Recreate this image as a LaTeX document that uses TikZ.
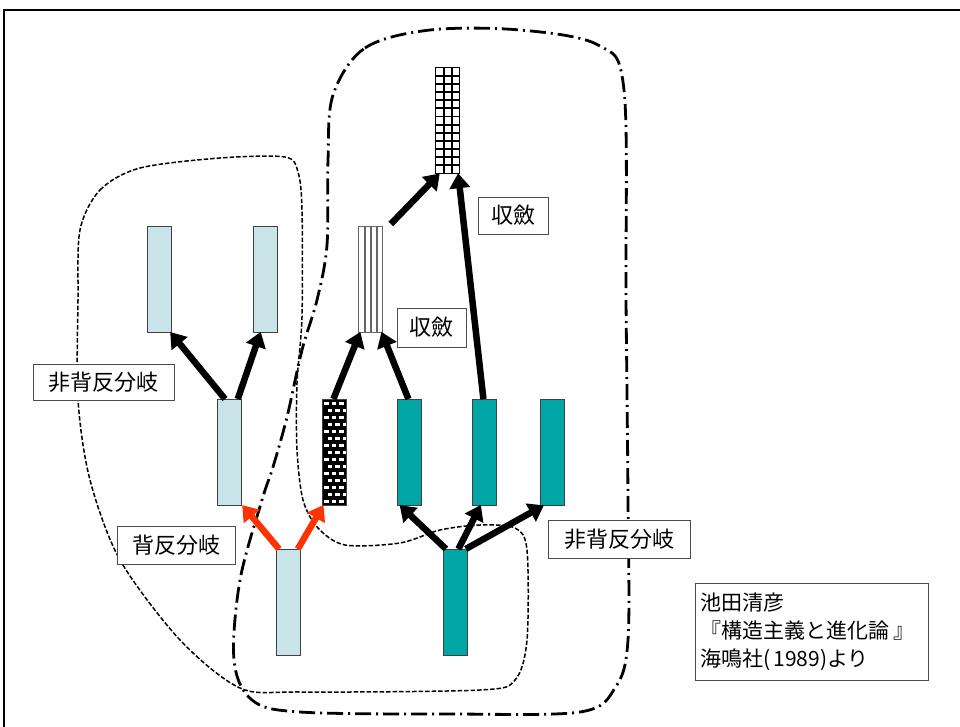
\documentclass[tikz,border=0pt]{standalone}
\usepackage{fontspec}
\setmainfont{Noto Sans CJK JP}
\usetikzlibrary{arrows.meta,calc}
\definecolor{lblue}{RGB}{200,228,232}
\definecolor{teal2}{RGB}{0,166,166}
\definecolor{redarr}{RGB}{255,51,0}
\tikzset{
  lbox/.style={draw=black!75,line width=0.8pt,fill=lblue,minimum width=24pt,minimum height=106pt,inner sep=0pt,anchor=north west},
  tbox/.style={lbox,fill=teal2},
  arr/.style={line width=6.5pt,-{Triangle[length=15pt,width=20pt]},shorten >=-1pt},
  rarr/.style={arr,draw=redarr,-{Triangle[length=15pt,width=20pt,fill=redarr]}},
  lab/.style={draw=black!70,line width=0.8pt,fill=white,font=\fontsize{22pt}{26pt}\selectfont,inner sep=0pt},
  dashdot/.style={line width=2.8pt,dash pattern=on 16pt off 5pt on 2pt off 5pt},
  sdash/.style={line width=1.5pt,dash pattern=on 4.5pt off 2pt},
}
\begin{document}
\begin{tikzpicture}[x=1pt,y=-1pt]
\useasboundingbox (0,0) rectangle (960,727);
% frame
\draw[line width=2pt] (4,730) -- (4,10) -- (962,10);

% blobs
\draw[dashdot] plot[smooth cycle,tension=0.55] coordinates {(333,95) (365,48) (430,30) (520,30) (598,45) (624,90) (626,300) (628,500) (628,640) (615,688) (580,712) (450,714) (300,712) (252,700) (234,660) (240,580) (262,500) (273,467) (287,417) (302,350) (317,300) (327,245) (328,160)};
\draw[sdash] plot[smooth cycle,tension=0.5] coordinates {(80,230) (100,190) (140,168) (220,158) (285,157) (298,172) (302,210) (302,317) (297,383) (297,450) (303,500) (318,528) (345,545) (400,543) (440,530) (480,525) (515,528) (527,550) (527,640) (515,680) (480,690) (300,692) (240,688) (180,640) (120,560) (90,480) (78,400) (78,300)};

% boxes
\node[lbox] (B1) at (147,226) {};
\node[lbox] (B2) at (253,226) {};
\node[lbox] (B3) at (217,399) {};
\node[lbox] (B4) at (276,549) {};
\node[tbox] (T1) at (397,399) {};
\node[tbox] (T2) at (472,399) {};
\node[tbox] (T3) at (540,399) {};
\node[tbox] (T4) at (443,549) {};
% checkered
\node[lbox,fill=black,path picture={
  \foreach \r in {0,...,14}{
    \pgfmathsetmacro{\off}{mod(\r,2)==0 ? 2 : 5.5}
    \foreach \c in {0,1,2}{
      \fill[white] ($(path picture bounding box.north west)+(\off+\c*7.5,3+\r*7)$) rectangle ++(4.5,2.2);
    }}
}] (C) at (322,399) {};
% striped
\node[lbox,fill=white,draw=black!60,path picture={
  \foreach \f in {0.28,0.52,0.76}{
    \draw[line width=2pt] ($(path picture bounding box.north west)!\f!(path picture bounding box.north east)$) -- ++(0,106);
  }
}] (S) at (358,226) {};
% grid
\node[lbox,fill=white,draw=black,line width=1.2pt,path picture={
  \foreach \f in {1,2}{
    \draw[line width=1.8pt] ($(path picture bounding box.north west)+(\f*8,0)$) -- ++(0,106);
  }
  \foreach \r in {1,...,12}{
    \draw[line width=1.8pt] ($(path picture bounding box.north west)+(0,\r*8.15)$) -- ++(24,0);
  }
}] (G) at (435,67) {};

% arrows
\draw[arr] ([xshift=8pt]B3.north west) -- ([xshift=-1pt]B1.south east);
\draw[arr] ([xshift=-4pt]B3.north east) -- ([xshift=-5pt]B2.south);
\draw[rarr] ([xshift=3pt]B4.north west) -- ([xshift=1pt]B3.south east);
\draw[rarr] ([xshift=-3pt]B4.north east) -- ([xshift=1pt]C.south west);
\draw[arr] ([xshift=-1pt]C.north) -- ([xshift=2pt]S.south west);
\draw[arr] ([xshift=-1pt]T1.north) -- ([xshift=-1pt]S.south east);
\draw[arr] ([xshift=8pt,yshift=2pt]S.north east) -- ([xshift=4pt]G.south west);
\draw[arr] ([xshift=-1pt]T2.north) -- ([xshift=-2pt]G.south east);
\draw[arr] ([xshift=3pt]T4.north west) -- ([xshift=-9pt]T1.south);
\draw[arr] ([xshift=3pt]T4.north) -- ([xshift=-4pt]T2.south);
\draw[arr] ([xshift=-2pt]T4.north east) -- ([xshift=3pt]T3.south west);

% labels
\node[lab,minimum width=141pt,minimum height=36pt] (L1) at (103.5,382) {非背反分岐};
\node[lab,minimum width=118pt,minimum height=38pt] (L2) at (176,545) {背反分岐};
\node[lab,minimum width=70pt,minimum height=37pt] (L3) at (513,215.5) {収斂};
\node[lab,minimum width=69pt,minimum height=39pt] (L4) at (431.5,327.5) {収斂};
\node[lab,minimum width=142pt,minimum height=38pt] (L5) at (619,539) {非背反分岐};
\node[lab,minimum width=233pt,minimum height=97pt,align=left,text width=224pt,font=\fontsize{21pt}{28pt}\selectfont] (L6) at (812,631.5) {池田清彦\\『構造主義と進化論\hspace{4pt}』\\海鳴社(\,1989)より};
\end{tikzpicture}
\end{document}
